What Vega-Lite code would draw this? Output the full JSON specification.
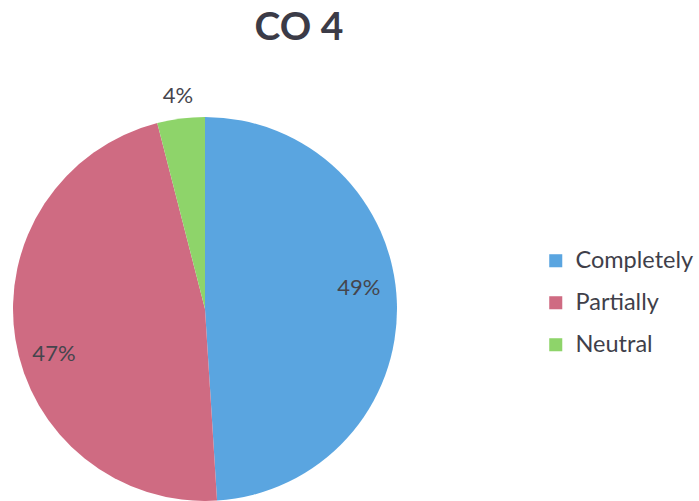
{
  "$schema": "https://vega.github.io/schema/vega-lite/v6.json",
  "autosize": "none",
  "width": 384,
  "height": 384,
  "padding": {"left": 13, "top": 117, "right": 302, "bottom": 0},
  "background": "white",
  "title": {
    "text": "CO 4",
    "font": "Lato",
    "fontSize": 39,
    "fontWeight": "bold",
    "color": "#3b3b47",
    "anchor": "middle",
    "frame": "group",
    "dx": 94,
    "offset": 37
  },
  "data": {
    "values": [
      {"category": "Completely", "value": 49, "label": "49%", "order": 1},
      {"category": "Partially", "value": 47, "label": "47%", "order": 2},
      {"category": "Neutral", "value": 4, "label": "4%", "order": 3}
    ]
  },
  "encoding": {
    "theta": {"field": "value", "type": "quantitative", "stack": true},
    "order": {"field": "order", "type": "quantitative"}
  },
  "layer": [
    {
      "mark": {"type": "arc", "outerRadius": 192, "stroke": null},
      "encoding": {
        "color": {
          "field": "category",
          "type": "nominal",
          "sort": ["Completely", "Partially", "Neutral"],
          "scale": {
            "domain": ["Completely", "Partially", "Neutral"],
            "range": ["#5aa5e0", "#cf6b82", "#8ed46a"]
          },
          "legend": {
            "orient": "none",
            "legendX": 531,
            "legendY": 132,
            "title": null,
            "symbolType": "square",
            "symbolSize": 170,
            "symbolStrokeWidth": 0,
            "labelFont": "Lato",
            "labelFontSize": 23.5,
            "labelColor": "#3f3f4a",
            "labelOffset": 8,
            "rowPadding": 17
          }
        }
      }
    },
    {
      "mark": {"type": "text", "radius": 154, "font": "Lato", "fontSize": 22, "color": "#45454d", "dy": -16},
      "encoding": {
        "text": {"condition": {"test": "datum.category === 'Completely'", "field": "label"}, "value": ""}
      }
    },
    {
      "mark": {"type": "text", "radius": 158, "font": "Lato", "fontSize": 22, "color": "#45454d", "dx": 5, "dy": 20},
      "encoding": {
        "text": {"condition": {"test": "datum.category === 'Partially'", "field": "label"}, "value": ""}
      }
    },
    {
      "mark": {"type": "text", "radius": 215, "font": "Lato", "fontSize": 22, "color": "#45454d"},
      "encoding": {
        "text": {"condition": {"test": "datum.category === 'Neutral'", "field": "label"}, "value": ""}
      }
    }
  ]
}
